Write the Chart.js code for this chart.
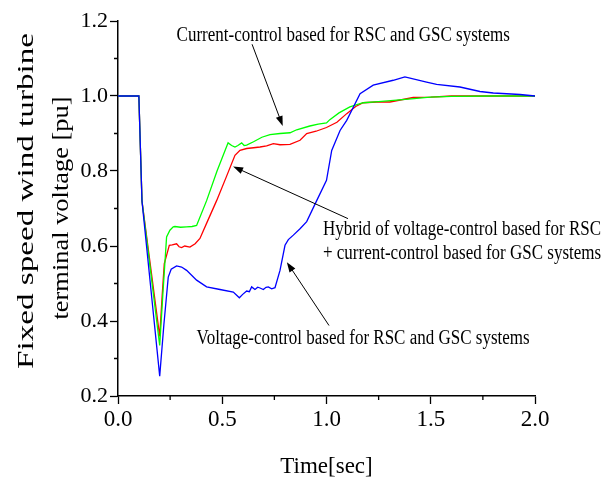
<!DOCTYPE html>
<html>
<head>
<meta charset="utf-8">
<script src="https://cdn.jsdelivr.net/npm/chart.js@4.4.0/dist/chart.umd.min.js"></script>
<style>
body{margin:0;background:#fff;}
#wrap{width:616px;height:481px;position:relative;}
</style>
</head>
<body>
<div id="wrap"><canvas id="voltage-Chart"></canvas></div>
<script>
// time [sec] and terminal voltage [pu]
const voltT = [0, 0.1, 0.115, 0.2, 0.22, 0.241, 0.255, 0.281, 0.305, 0.329, 0.377, 0.425, 0.489, 0.553, 0.582, 0.598, 0.617, 0.63, 0.641, 0.657, 0.67, 0.681, 0.697, 0.71, 0.721, 0.737, 0.753, 0.777, 0.801, 0.817, 0.841, 0.873, 0.905, 0.953, 1.0, 1.025, 1.065, 1.097, 1.161, 1.224, 1.32, 1.376, 1.48, 1.528, 1.64, 1.736, 1.8, 1.928, 2.0];
const voltV = [1.0, 1.0, 0.72, 0.253, 0.39, 0.517, 0.538, 0.547, 0.544, 0.535, 0.509, 0.491, 0.484, 0.477, 0.462, 0.471, 0.48, 0.478, 0.491, 0.484, 0.49, 0.488, 0.484, 0.49, 0.491, 0.486, 0.489, 0.535, 0.602, 0.617, 0.629, 0.646, 0.665, 0.721, 0.775, 0.855, 0.908, 0.935, 1.006, 1.029, 1.042, 1.051, 1.037, 1.031, 1.024, 1.012, 1.008, 1.004, 1.0];

const hybT = [0, 0.1, 0.115, 0.2, 0.212, 0.222, 0.233, 0.246, 0.26, 0.281, 0.293, 0.305, 0.32, 0.345, 0.37, 0.393, 0.43, 0.473, 0.52, 0.561, 0.585, 0.617, 0.65, 0.681, 0.713, 0.745, 0.777, 0.825, 0.873, 0.905, 0.95, 1.0, 1.05, 1.097, 1.14, 1.176, 1.24, 1.304, 1.36, 1.416, 1.5, 1.6, 1.8, 2.0];
const hybV = [1.0, 1.0, 0.72, 0.359, 0.469, 0.553, 0.575, 0.602, 0.603, 0.606, 0.598, 0.596, 0.6, 0.597, 0.606, 0.62, 0.667, 0.721, 0.785, 0.842, 0.855, 0.86, 0.862, 0.864, 0.867, 0.873, 0.87, 0.871, 0.882, 0.9, 0.906, 0.916, 0.93, 0.953, 0.972, 0.982, 0.984, 0.984, 0.99, 0.996, 0.997, 1.0, 1.0, 1.0];

const currT = [0, 0.1, 0.115, 0.2, 0.215, 0.233, 0.249, 0.265, 0.273, 0.3, 0.329, 0.355, 0.377, 0.425, 0.475, 0.528, 0.545, 0.561, 0.575, 0.593, 0.605, 0.617, 0.65, 0.69, 0.729, 0.777, 0.825, 0.857, 0.92, 0.96, 1.0, 1.016, 1.06, 1.112, 1.176, 1.25, 1.336, 1.42, 1.496, 1.6, 1.8, 2.0];
const currV = [1.0, 1.0, 0.72, 0.335, 0.47, 0.624, 0.642, 0.651, 0.652, 0.65, 0.651, 0.652, 0.655, 0.721, 0.8, 0.875, 0.868, 0.864, 0.868, 0.875, 0.868, 0.869, 0.878, 0.89, 0.897, 0.9, 0.902, 0.91, 0.92, 0.925, 0.928, 0.937, 0.955, 0.971, 0.982, 0.985, 0.989, 0.993, 0.997, 0.999, 1.0, 1.0];

const xTicks = [0.0, 0.5, 1.0, 1.5, 2.0];
const yTicks = [0.2, 0.4, 0.6, 0.8, 1.0, 1.2];
const xMinor = [0.25, 0.75, 1.25, 1.75];
const yMinor = [0.3, 0.5, 0.7, 0.9, 1.1];

const pts = (t, v) => t.map((x, i) => ({x: x, y: v[i]}));

const serif = '"Liberation Serif", "Times New Roman", serif';

// annotation texts, placed in data units, arrows from -> to
const notes = [
    {lines: ['Current-control based for RSC and GSC systems'], x: 0.281, y: 1.147, from: [0.643, 1.138], to: [0.79, 0.92]},
    {lines: ['Hybrid of voltage-control based for RSC', '+ current-control based for GSC systems'], x: 0.983, y: 0.630, from: [1.103, 0.673], to: [0.552, 0.812]},
    {lines: ['Voltage-control based for RSC and GSC systems'], x: 0.377, y: 0.338, from: [1.012, 0.388], to: [0.81, 0.557]}
];

const extras = {
    id: 'extras',
    afterDraw(chart) {
        const c = chart.ctx;
        const xs = chart.scales.x, ys = chart.scales.y;
        const area = chart.chartArea;
        c.save();
        // minor ticks
        c.strokeStyle = '#000';
        c.lineWidth = 1.3;
        c.beginPath();
        xMinor.forEach(v => {
            const px = xs.getPixelForValue(v);
            c.moveTo(px, area.bottom);
            c.lineTo(px, area.bottom + 4);
        });
        yMinor.forEach(v => {
            const py = ys.getPixelForValue(v);
            c.moveTo(area.left, py);
            c.lineTo(area.left - 4, py);
        });
        c.stroke();

        // notes + arrows
        c.fillStyle = '#000';
        c.font = '17px ' + serif;
        c.textAlign = 'left';
        c.textBaseline = 'alphabetic';
        notes.forEach(n => {
            const tx = xs.getPixelForValue(n.x), ty = ys.getPixelForValue(n.y);
            n.lines.forEach((s, i) => {
                c.save();
                c.translate(tx, ty + i * 24);
                c.scale(1, 1.22);
                c.fillText(s, 0, 0);
                c.restore();
            });
            const x0 = xs.getPixelForValue(n.from[0]), y0 = ys.getPixelForValue(n.from[1]);
            const x1 = xs.getPixelForValue(n.to[0]), y1 = ys.getPixelForValue(n.to[1]);
            const a = Math.atan2(y1 - y0, x1 - x0);
            c.lineWidth = 1;
            c.beginPath();
            c.moveTo(x0, y0);
            c.lineTo(x1 - 8 * Math.cos(a), y1 - 8 * Math.sin(a));
            c.stroke();
            c.beginPath();
            c.moveTo(x1, y1);
            c.lineTo(x1 - 10 * Math.cos(a) + 3.5 * Math.sin(a), y1 - 10 * Math.sin(a) - 3.5 * Math.cos(a));
            c.lineTo(x1 - 10 * Math.cos(a) - 3.5 * Math.sin(a), y1 - 10 * Math.sin(a) + 3.5 * Math.cos(a));
            c.closePath();
            c.fill();
        });

        // axis titles
        c.font = '23px ' + serif;
        c.textAlign = 'center';
        c.fillText('Time[sec]', (area.left + area.right) / 2, 473);
        const yTitle = [['Fixed speed wind turbine', 33, 201, 336], ['terminal voltage [pu]', 68, 208, 223]];
        yTitle.forEach(([s, bx, cy, len]) => {
            c.save();
            c.translate(bx, cy);
            c.rotate(-Math.PI / 2);
            c.scale(len / c.measureText(s).width, 1);
            c.fillText(s, 0, 0);
            c.restore();
        });
        c.restore();
    }
};

const ctx = document.getElementById('voltage-Chart').getContext('2d');
const myChart = new Chart(ctx, {
    type: 'line',
    data: {
        datasets: [{
            label: 'Voltage-control based for RSC and GSC systems',
            data: pts(voltT, voltV),
            borderColor: '#0000ff',
            borderWidth: 1.3,
            pointRadius: 0,
            tension: 0
        },
        {
            label: 'Current-control based for RSC and GSC systems',
            data: pts(currT, currV),
            borderColor: '#00ff00',
            borderWidth: 1.3,
            pointRadius: 0,
            tension: 0
        },
        {
            label: 'Hybrid of voltage-control based for RSC + current-control based for GSC systems',
            data: pts(hybT, hybV),
            borderColor: '#ff0000',
            borderWidth: 1.3,
            pointRadius: 0,
            tension: 0
        }]
    },
    options: {
        responsive: true,
        maintainAspectRatio: false,
        animation: false,
        layout: {padding: {left: 0, right: 81, top: 21, bottom: 0}},
        plugins: {legend: {display: false}, tooltip: {enabled: false}},
        scales: {
            x: {
                type: 'linear',
                min: 0, max: 2,
                afterFit: s => { s.height = 85; },
                afterBuildTicks: s => { s.ticks = xTicks.map(v => ({value: v})); },
                ticks: {
                    callback: v => v.toFixed(1),
                    color: '#000',
                    font: {family: serif, size: 23},
                    padding: 2,
                    maxRotation: 0
                },
                grid: {drawOnChartArea: false, tickLength: 8, tickColor: '#000', tickWidth: 1.3},
                border: {color: '#000', width: 1.5}
            },
            y: {
                min: 0.2, max: 1.2,
                afterFit: s => { s.width = 118; },
                afterBuildTicks: s => { s.ticks = yTicks.map(v => ({value: v})); },
                ticks: {
                    callback: v => v.toFixed(1),
                    color: '#000',
                    font: {family: serif, size: 22},
                    padding: 2
                },
                grid: {drawOnChartArea: false, tickLength: 8, tickColor: '#000', tickWidth: 1.3},
                border: {color: '#000', width: 1.5}
            }
        }
    },
    plugins: [extras]
});
</script>
</body>
</html>
